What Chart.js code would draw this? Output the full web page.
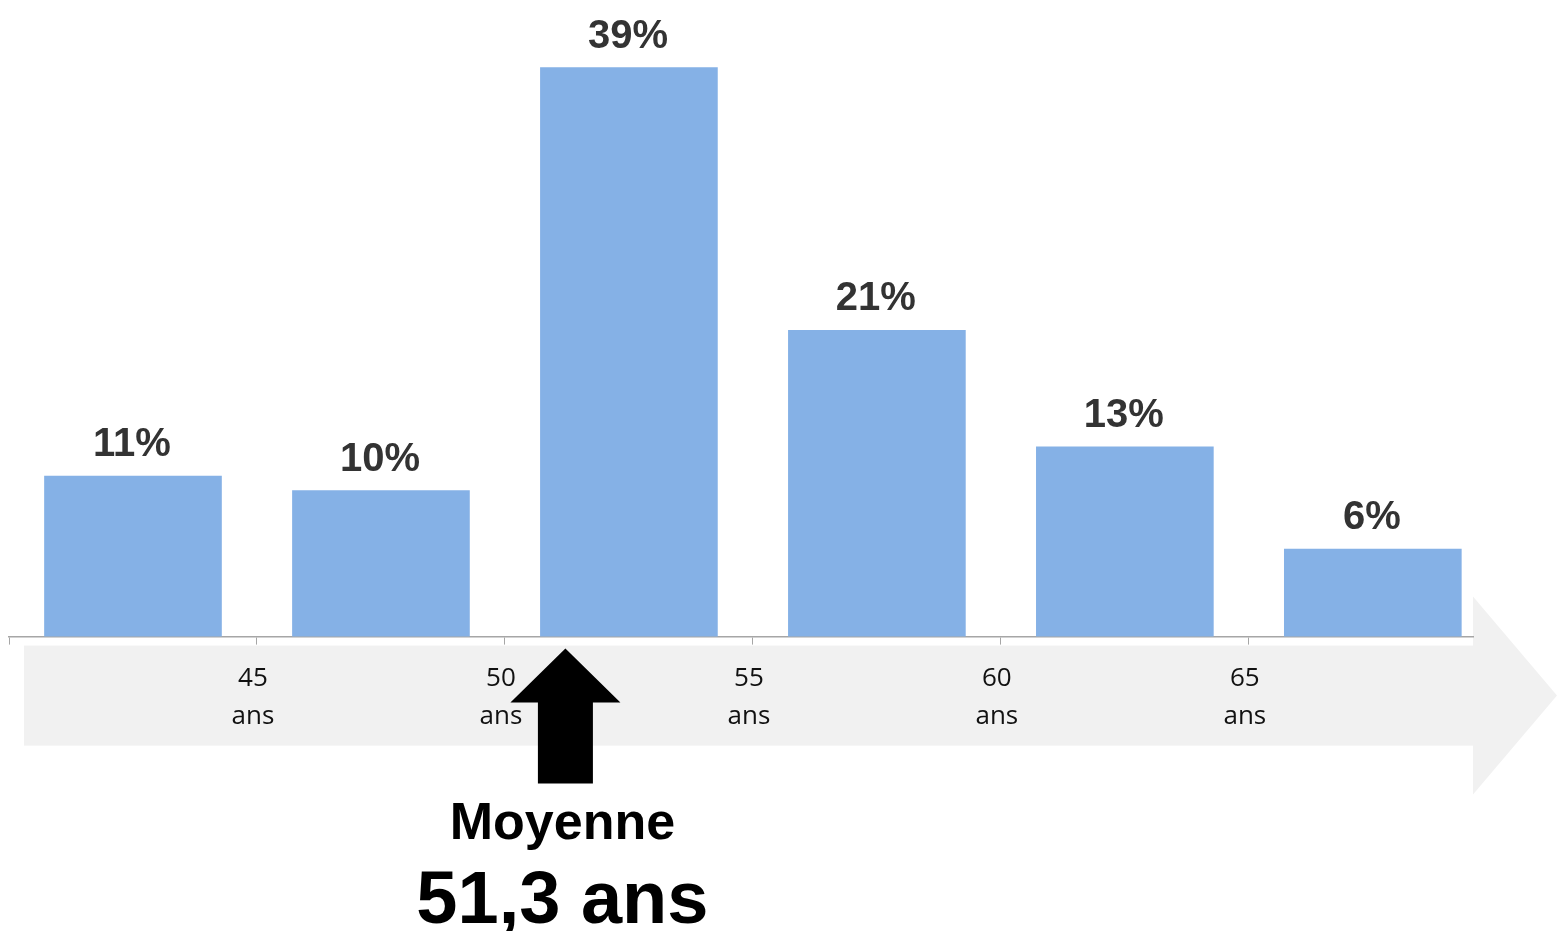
<!DOCTYPE html>
<html>
<head>
<meta charset="utf-8">
<script src="https://cdn.jsdelivr.net/npm/chart.js@4.4.1/dist/chart.umd.min.js"></script>
<style>
  html, body { margin: 0; padding: 0; background: #fff; }
  #wrap { width: 1557px; height: 931px; position: relative; }
</style>
</head>
<body>
<div id="wrap"><canvas id="age-chart"></canvas></div>
<script>
// age bins (mid points, in years) and share of each bin in %
const binMids   = [42.5, 47.5, 52.5, 57.5, 62.5, 67.5];
const shares    = [11, 10, 39, 21, 13, 6];
const tickYears = [45, 50, 55, 60, 65];
const meanAge   = 51.3;
const meanLabel = 'Moyenne';
const meanText  = '51,3 ans';

const BAR_COL  = '#85B1E6';
const AXIS_COL = '#A6A6A6';
const BAND_COL = '#F1F1F1';

// gray band + arrow head behind the axis labels
const bandPlugin = {
  id: 'band',
  beforeDraw(chart) {
    const { ctx, chartArea: a, width } = chart;
    ctx.save();
    ctx.fillStyle = BAND_COL;
    ctx.fillRect(a.left + 15, a.bottom + 9, a.right - a.left - 15, 100);
    ctx.beginPath();
    ctx.moveTo(a.right, a.bottom - 40);
    ctx.lineTo(width, a.bottom + 59);
    ctx.lineTo(a.right, a.bottom + 158);
    ctx.closePath();
    ctx.fill();
    ctx.restore();
  },
};

// % labels above bars and the "Moyenne" arrow
const labelPlugin = {
  id: 'labels',
  afterDraw(chart) {
    const { ctx, chartArea: a } = chart;
    const meta = chart.getDatasetMeta(0);
    ctx.save();
    ctx.font = 'bold 40px "Liberation Sans", Arial, sans-serif';
    ctx.fillStyle = '#333333';
    ctx.textAlign = 'center';
    ctx.textBaseline = 'alphabetic';
    meta.data.forEach((bar, i) => {
      ctx.fillText(shares[i] + '%', bar.x - 1, bar.y - 20);
    });

    const mx  = chart.scales.x.getPixelForValue(meanAge) - 4;
    const tip = a.bottom + 12;
    ctx.fillStyle = '#000';
    ctx.beginPath();
    ctx.moveTo(mx, tip);
    ctx.lineTo(mx + 55, tip + 54);
    ctx.lineTo(mx + 27.5, tip + 54);
    ctx.lineTo(mx + 27.5, tip + 135);
    ctx.lineTo(mx - 27.5, tip + 135);
    ctx.lineTo(mx - 27.5, tip + 54);
    ctx.lineTo(mx - 55, tip + 54);
    ctx.closePath();
    ctx.fill();

    ctx.font = 'bold 52px "Liberation Sans", Arial, sans-serif';
    ctx.fillText(meanLabel, mx - 3, tip + 190);
    ctx.font = 'bold 74px "Liberation Sans", Arial, sans-serif';
    ctx.fillText(meanText, mx - 3, tip + 274);
    ctx.restore();
  },
};

new Chart(document.getElementById('age-chart'), {
  type: 'bar',
  data: {
    datasets: [{
      data:            binMids.map((m, i) => ({ x: m, y: shares[i] })),
      backgroundColor: BAR_COL,
      borderWidth:     0,
      barThickness:    177,
    }],
  },
  options: {
    responsive:          true,
    maintainAspectRatio: false,
    animation:           false,
    layout: { padding: { left: 9, right: 84, top: 53, bottom: 181 } },
    plugins: { legend: { display: false }, tooltip: { enabled: false } },
    scales: {
      x: {
        type:   'linear',
        min:    40,
        max:    69.52,
        offset: false,
        afterFit(scale) { scale.paddingLeft = 0; scale.paddingRight = 0; },
        grid: {
          offset:          false,
          drawOnChartArea: false,
          color:           AXIS_COL,
          tickLength:      8,
        },
        border: { color: AXIS_COL, width: 1.5 },
        ticks: {
          stepSize:      5,
          includeBounds: false,
          autoSkip:      false,
          maxRotation:   0,
          padding:       15,
          labelOffset:   -4,
          color:         '#111111',
          font:          { family: '"Open Sans", sans-serif', size: 26, lineHeight: 1.45 },
          callback: (v) => tickYears.includes(v) ? [String(v), 'ans'] : '',
        },
      },
      y: { display: false, min: 0, max: 40 },
    },
  },
  plugins: [bandPlugin, labelPlugin],
});
</script>
</body>
</html>
